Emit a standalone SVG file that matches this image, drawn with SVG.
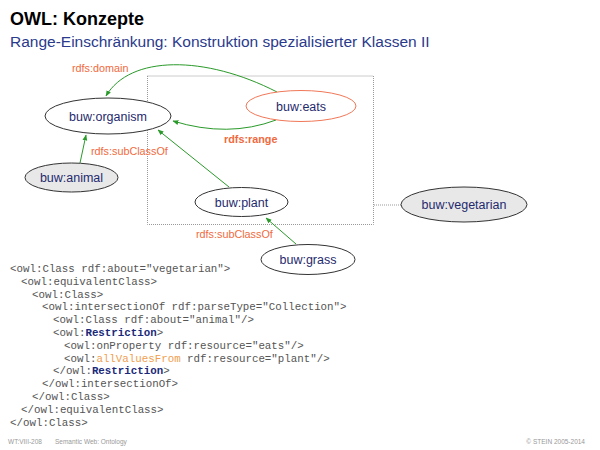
<svg xmlns="http://www.w3.org/2000/svg" width="600" height="450" viewBox="0 0 600 450">
<style>
.title{font-family:"Liberation Sans",Arial,sans-serif;font-weight:bold;font-size:18px;fill:#000}
.sub{font-family:"Liberation Sans",Arial,sans-serif;font-size:15.5px;fill:#2a3a8c}
.node{fill:#fff;stroke:#333;stroke-width:1}
.grey{fill:#e8e8e8}
.prop{fill:#fff;stroke:#f07858;stroke-width:1}
.nl{font-family:"Liberation Sans",Arial,sans-serif;font-size:12.5px;fill:#1f2a6e;text-anchor:middle}
.el{font-family:"Liberation Sans",Arial,sans-serif;font-size:10.8px;fill:#f06a40}
.b{font-weight:bold}
.edge{fill:none;stroke:#2a9a2a;stroke-width:1;marker-end:url(#ah)}
.code{font-family:"Liberation Mono","Courier New",monospace;font-size:10.8px;fill:#555;white-space:pre}
.kw{font-weight:bold;fill:#1a2a7a}
.av{fill:#f0a050}
.foot{font-family:"Liberation Sans",Arial,sans-serif;font-size:6.5px;fill:#999}
</style>
<defs>
<marker id="ah" viewBox="0 0 10 10" refX="9" refY="5" markerWidth="6" markerHeight="6" orient="auto" markerUnits="userSpaceOnUse">
<path d="M0,1 L10,5 L0,9 z" fill="#2a9a2a"/>
</marker>
</defs>
<text class="title" x="10" y="25">OWL: Konzepte</text>
<text class="sub" x="10" y="47">Range-Einschränkung: Konstruktion spezialisierter Klassen II</text>

<rect x="147.5" y="76" width="226" height="148.5" fill="none" stroke="#999" stroke-width="1" stroke-dasharray="1,1"/>
<line x1="374" y1="205" x2="401" y2="205" stroke="#999" stroke-width="1" stroke-dasharray="1,1"/>

<g id="connectors">
<path class="edge" d="M80,163 L86,135"/>
<path class="edge" d="M229,187 L158,130"/>
<path class="edge" d="M296,244 L266,218"/>
<path class="edge" d="M276,120 Q228,138 173,121"/>
<path class="edge" d="M277,92 C205,55 130,55 106,96"/>
<text class="el" x="72" y="72">rdfs:domain</text>
<text class="el b" x="224" y="143">rdfs:range</text>
<text class="el" x="91" y="155">rdfs:subClassOf</text>
<text class="el" x="196" y="238">rdfs:subClassOf</text>
</g>

<g id="organism"><ellipse class="node" cx="108" cy="116" rx="63" ry="18"/><text class="nl" x="108" y="120.5">buw:organism</text></g>
<g id="animal"><ellipse class="node grey" cx="71.5" cy="177.5" rx="46.5" ry="14.5"/><text class="nl" x="71.5" y="182">buw:animal</text></g>
<g id="eats"><ellipse class="prop" cx="301" cy="106" rx="55" ry="15.5"/><text class="nl" x="301" y="110.5">buw:eats</text></g>
<g id="plant"><ellipse class="node" cx="241.5" cy="202" rx="46.5" ry="14.5"/><text class="nl" x="241.5" y="206.5">buw:plant</text></g>
<g id="grass"><ellipse class="node" cx="308" cy="259.5" rx="47" ry="15"/><text class="nl" x="308" y="264">buw:grass</text></g>
<g id="vegetarian"><ellipse class="node grey" cx="464" cy="204.5" rx="63" ry="17.5"/><text class="nl" x="464" y="209">buw:vegetarian</text></g>

<g id="code">
<text class="code" x="10" y="272">&lt;owl:Class rdf:about="vegetarian"&gt;</text>
<text class="code" x="21" y="285">&lt;owl:equivalentClass&gt;</text>
<text class="code" x="32" y="298">&lt;owl:Class&gt;</text>
<text class="code" x="42" y="310">&lt;owl:intersectionOf rdf:parseType="Collection"&gt;</text>
<text class="code" x="53" y="323">&lt;owl:Class rdf:about="animal"/&gt;</text>
<text class="code" x="53" y="336">&lt;owl:<tspan class="kw">Restriction</tspan>&gt;</text>
<text class="code" x="64" y="349">&lt;owl:onProperty rdf:resource="eats"/&gt;</text>
<text class="code" x="64" y="362">&lt;owl:<tspan class="av">allValuesFrom</tspan> rdf:resource="plant"/&gt;</text>
<text class="code" x="53" y="374">&lt;/owl:<tspan class="kw">Restriction</tspan>&gt;</text>
<text class="code" x="42" y="387">&lt;/owl:intersectionOf&gt;</text>
<text class="code" x="32" y="400">&lt;/owl:Class&gt;</text>
<text class="code" x="21" y="413">&lt;/owl:equivalentClass&gt;</text>
<text class="code" x="10" y="426">&lt;/owl:Class&gt;</text>
</g>

<text class="foot" x="8" y="444">WT:VIII-208</text>
<text class="foot" x="55" y="444">Semantic Web: Ontology</text>
<text class="foot" x="585" y="444" text-anchor="end">© STEIN 2005-2014</text>
</svg>
